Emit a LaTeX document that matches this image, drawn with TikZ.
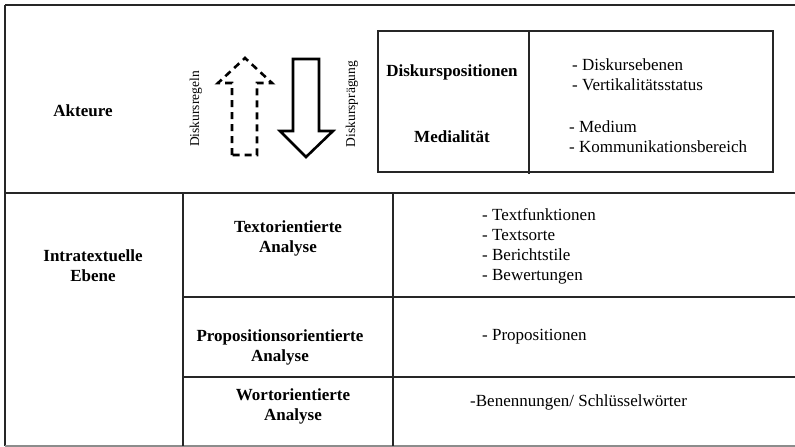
\documentclass[tikz,border=0pt]{standalone}
\usepackage{fontspec}
\setmainfont{Liberation Serif}
\usetikzlibrary{positioning}

\begin{document}
\begin{tikzpicture}[
    x=1pt, y=-1pt,
    rule/.style={line width=1.3pt, black!85},
    head/.style={font=\bfseries\fontsize{17}{20}\selectfont, align=center, inner sep=0pt},
    item/.style={font=\fontsize{17}{20}\selectfont, align=left, anchor=west, inner sep=0pt},
    side/.style={font=\fontsize{13.5}{16}\selectfont, rotate=90, inner sep=0pt},
    flow/.style={line width=2.6pt, line join=miter}
]
\useasboundingbox (0,0) rectangle (795,447);

% table rules
\draw[rule] (5,5) -- (795,5);
\draw[rule] (5,5) -- (5,446);
\draw[line width=1.3pt, black!45] (5,446) -- (795,446);
\draw[rule] (5,193) -- (795,193);
\draw[rule] (183,193) -- (183,446);
\draw[rule] (393,193) -- (393,446);
\draw[rule] (183,297) -- (795,297);
\draw[rule] (183,377) -- (795,377);

% inner box
\draw[rule] (378,31) rectangle (773,172);
\draw[rule] (529,31) -- (529,174);

% arrows
\draw[flow, dash pattern=on 7pt off 5pt]
    (232,155) -- (232,83) -- (218,83) -- (245,58) -- (272,83) -- (257,83) -- (257,155) -- cycle;
\draw[flow]
    (293,59) -- (319,59) -- (319,131) -- (333,131) -- (306,157) -- (280,131) -- (293,131) -- cycle;

\node[head] (akteure) at (83,111) {Akteure};
\node[side] (regeln) at (196,109) {Diskursregeln};
\node[side] (praegung) at (352,104) {Diskursprägung};

\node[head] (diskpos) at (452,72) {Diskurspositionen};
\node[head] (medial) at (452,137) {Medialität};
\node[item] (ebenen) at (572,75) {- Diskursebenen\\- Vertikalitätsstatus};
\node[item] (medium) at (569,137) {- Medium\\- Kommunikationsbereich};

\node[head] (intra) at (93,266) {Intratextuelle\\Ebene};
\node[head] (textor) at (288,238) {Textorientierte\\Analyse};
\node[head] (propor) at (280,347) {Propositionsorientierte\\Analyse};
\node[head] (wortor) at (293,406) {Wortorientierte\\Analyse};

\node[item] (textitems) at (482,246) {- Textfunktionen\\- Textsorte\\- Berichtstile\\- Bewertungen};
\node[item] (propitems) at (482,337) {- Propositionen};
\node[item] (wortitems) at (470,402) {-Benennungen/ Schlüsselwörter};

\end{tikzpicture}
\end{document}
